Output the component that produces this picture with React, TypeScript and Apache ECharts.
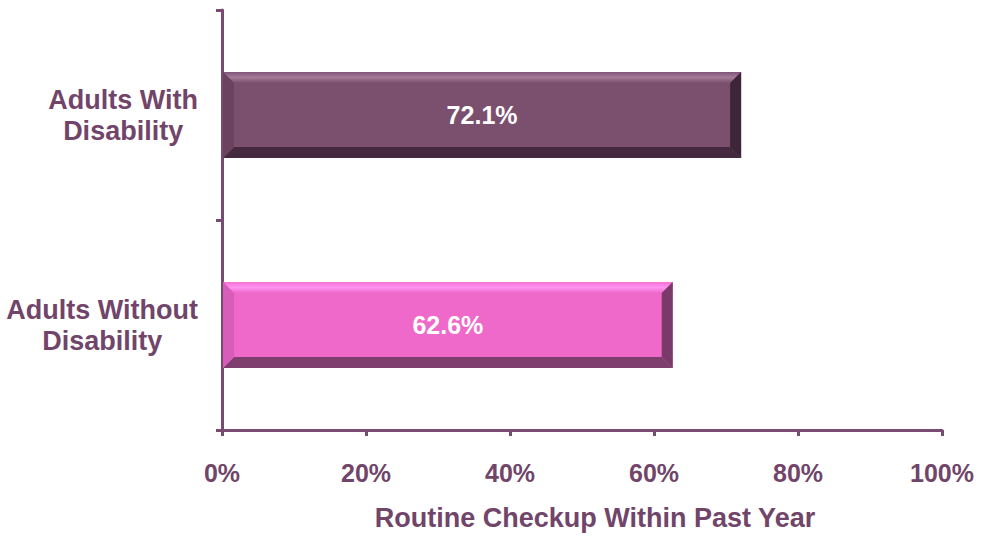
import React, { useEffect, useRef } from "react";
import * as echarts from "echarts";

const categories = ["Adults Without\nDisability", "Adults With\nDisability"];
const values = [62.6, 72.1];
const xTicks = [0, 20, 40, 60, 80, 100];
const xTitle = "Routine Checkup Within Past Year";

const palettes = [
  { face: "#EE69CA", top: ["#F46FD2", "#FF93F2"], bottom: "#7E3F6E", left: "#D85CB9", right: "#7A3A69" },
  { face: "#7B4F6E", top: ["#80547A", "#A57A98"], bottom: "#45293F", left: "#6B4361", right: "#3D2638" },
];

const FONT = 'Arial, "Liberation Sans", Helvetica, sans-serif';
const TXT = "#71456A";
const AX = "#7A4B70";

export default function App() {
  const ref = useRef<HTMLDivElement>(null);
  useEffect(() => {
    const chart = echarts.init(ref.current!, null, { renderer: "svg" });
    chart.setOption({
      animation: false,
      grid: { left: 222, right: 39, top: 10, bottom: 99, containLabel: false },
      xAxis: {
        type: "value",
        min: xTicks[0],
        max: xTicks[xTicks.length - 1],
        interval: 20,
        name: xTitle,
        nameLocation: "middle",
        nameGap: 74,
        nameTextStyle: {
          color: TXT,
          fontSize: 27,
          fontWeight: "bold",
          fontFamily: FONT,
          padding: [0, 0, 0, 26],
        },
        axisLine: { show: true, lineStyle: { color: AX, width: 3 } },
        axisTick: { show: true, length: 6, lineStyle: { color: AX, width: 3 } },
        splitLine: { show: false },
        axisLabel: {
          color: TXT,
          fontSize: 25,
          fontWeight: "bold",
          fontFamily: FONT,
          margin: 30,
          formatter: "{value}%",
        },
      },
      yAxis: {
        type: "category",
        data: categories,
        axisLine: { show: true, lineStyle: { color: AX, width: 3 } },
        axisTick: { show: true, length: 6, lineStyle: { color: AX, width: 3 } },
        axisLabel: {
          margin: 24,
          formatter: (v: string) => v.split("\n").map((s) => `{a|${s}}`).join("\n"),
          rich: {
            a: {
              color: TXT,
              fontSize: 27,
              fontWeight: "bold",
              fontFamily: FONT,
              lineHeight: 31,
              align: "center",
            },
          },
        },
      },
      series: [
        {
          type: "custom",
          encode: { x: 0, y: 1 },
          data: values.map((v, i) => [v, i]),
          renderItem: (params: any, api: any) => {
            const v = api.value(0);
            const ci = api.value(1);
            const s = api.coord([0, ci]);
            const e = api.coord([v, ci]);
            const h = api.size([0, 1])[1] * 0.41;
            const x0 = s[0] + 1;
            const x1 = e[0];
            const yc = s[1];
            const y0 = yc - h / 2;
            const y1 = yc + h / 2;
            const b = 11;
            const p = palettes[params.dataIndex];
            return {
              type: "group",
              children: [
                { type: "rect", shape: { x: x0, y: y0, width: x1 - x0, height: h }, style: { fill: p.face } },
                {
                  type: "polygon",
                  shape: { points: [[x0, y0], [x1, y0], [x1 - b, y0 + b], [x0 + b, y0 + b]] },
                  style: {
                    fill: new echarts.graphic.LinearGradient(0, 0, 0, 1, [
                      { offset: 0, color: p.top[0] },
                      { offset: 0.5, color: p.top[1] },
                      { offset: 1, color: p.face },
                    ]),
                  },
                },
                {
                  type: "polygon",
                  shape: { points: [[x0, y1], [x1, y1], [x1 - b, y1 - b], [x0 + b, y1 - b]] },
                  style: { fill: p.bottom },
                },
                {
                  type: "polygon",
                  shape: { points: [[x0, y0], [x0 + b, y0 + b], [x0 + b, y1 - b], [x0, y1]] },
                  style: { fill: p.left },
                },
                {
                  type: "polygon",
                  shape: { points: [[x1, y0], [x1, y1], [x1 - b, y1 - b], [x1 - b, y0 + b]] },
                  style: { fill: p.right },
                },
                {
                  type: "text",
                  x: (x0 + x1) / 2,
                  y: yc,
                  style: {
                    text: v.toFixed(1) + "%",
                    fill: "#FFFFFF",
                    fontSize: 25,
                    fontWeight: "bold",
                    fontFamily: FONT,
                    align: "center",
                    verticalAlign: "middle",
                  },
                },
              ],
            };
          },
        },
      ],
    });
    return () => chart.dispose();
  }, []);
  return (
    <div
      ref={ref}
      style={{ position: "fixed", left: 0, top: 0, width: 981, height: 536, background: "#ffffff" }}
    />
  );
}
